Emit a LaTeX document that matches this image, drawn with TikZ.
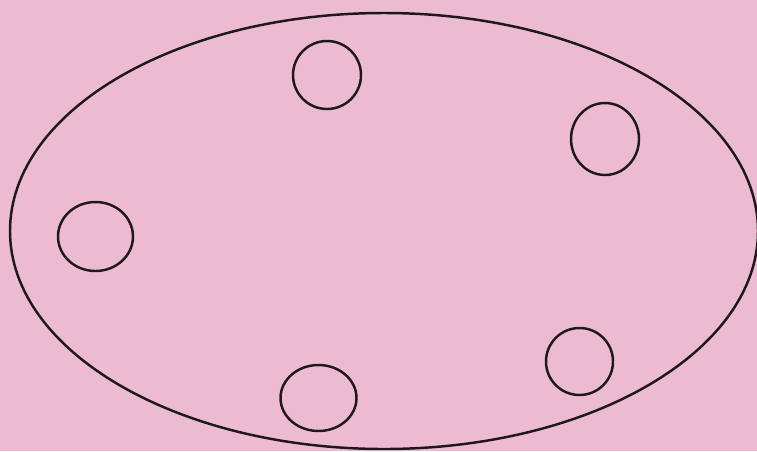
\documentclass[tikz,border=0pt]{standalone}
\definecolor{bgpink}{RGB}{236,187,210}
\definecolor{inkline}{RGB}{30,24,28}
\begin{document}
\begin{tikzpicture}[x=0.02cm,y=-0.02cm,line join=round,line cap=round,line width=1.4pt]
				\fill[bgpink] (0,0) rectangle (757,451);
				\useasboundingbox (0,0) rectangle (757,451);
				\coordinate (O) at (384,231);
				\coordinate (P1) at (327,75);
				\coordinate (P2) at (605,139);
				\coordinate (P3) at (95.5,236.5);
				\coordinate (P4) at (579.5,361.5);
				\coordinate (P5) at (318.5,398);
				\draw[inkline] (O) ellipse [x radius=374,y radius=218];
				\draw[inkline] (P1) ellipse [x radius=34,y radius=34];
				\draw[inkline] (P2) ellipse [x radius=34,y radius=36];
				\draw[inkline] (P3) ellipse [x radius=37.5,y radius=34.5];
				\draw[inkline] (P4) ellipse [x radius=33.5,y radius=33.5];
				\draw[inkline] (P5) ellipse [x radius=38,y radius=33];
			\end{tikzpicture}
\end{document}
